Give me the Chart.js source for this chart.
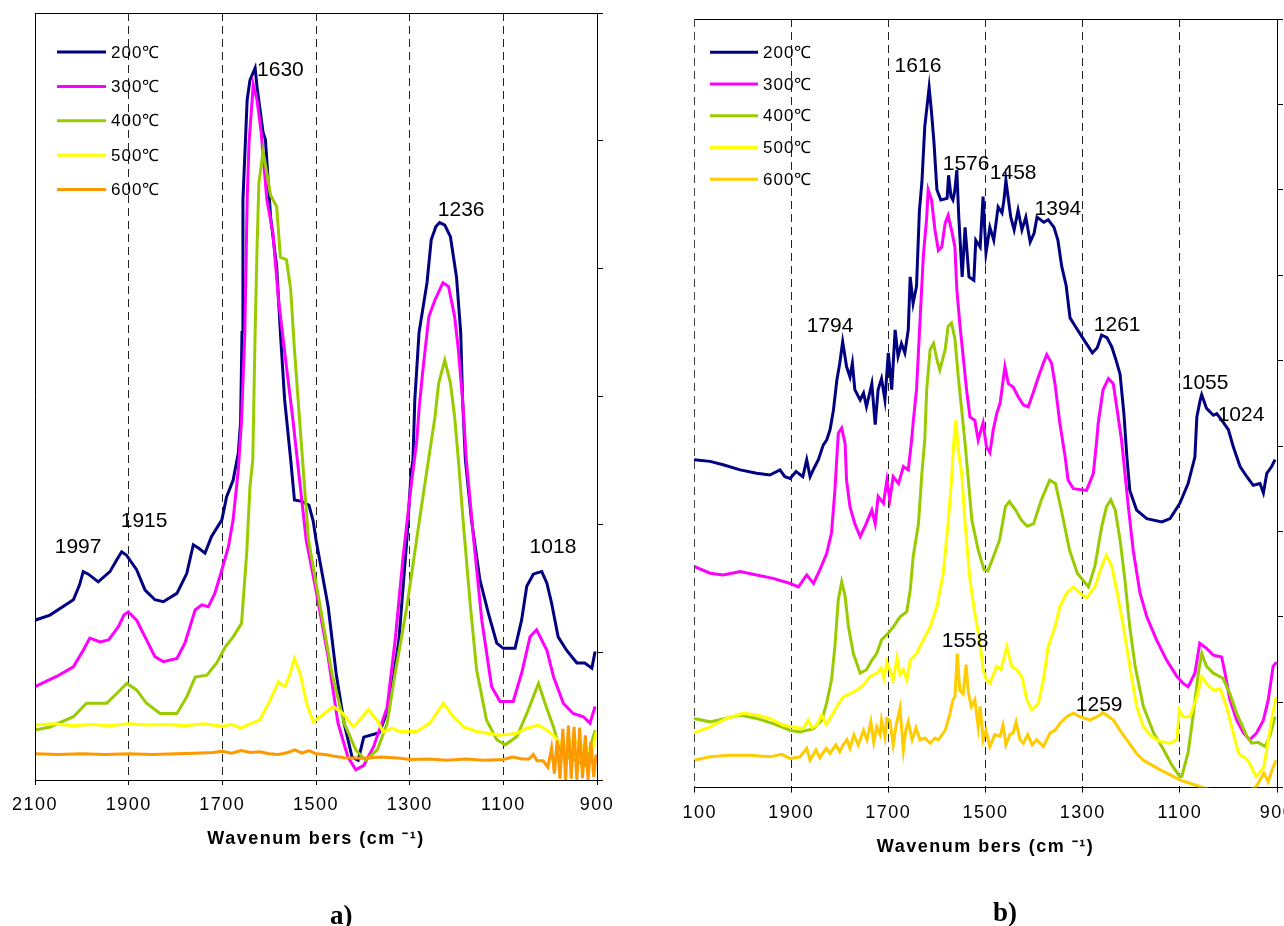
<!DOCTYPE html>
<html>
<head>
<meta charset="utf-8">
<script src="https://cdn.jsdelivr.net/npm/chart.js@4.4.0/dist/chart.umd.min.js"></script>
<style>
  html, body { margin: 0; padding: 0; background: #fff; }
  body { width: 1284px; height: 926px; overflow: hidden; position: relative; }
  .panel { position: absolute; top: 0; overflow: hidden; }
  .panel canvas { position: absolute; top: 0; }
  #wrapA { left: 0; width: 640px; height: 926px; }
  #wrapA canvas { left: 0; }
  #wrapB { left: 683px; width: 601px; height: 926px; }
  #wrapB canvas { left: -19px; }
  .tag { position: absolute; font: bold 27px "Liberation Serif", "Times New Roman", serif; color: #000; }
</style>
</head>
<body>
<div class="panel" id="wrapA"><canvas id="chartA" width="640" height="926"></canvas></div>
<div class="panel" id="wrapB"><canvas id="chartB" width="676" height="926"></canvas></div>
<div class="tag" style="left:330px; top:900px">a)</div>
<div class="tag" style="left:993px; top:897px">b)</div>
<script>
const temps = ['200℃', '300℃', '400℃', '500℃', '600℃'];

// panel a
const waveA200 = [2100,2068,2018,2005,1997,1986,1965,1940,1925,1915,1905,1883,1865,1844,1826,1797,1776,1762,1751,1737,1723,1701,1691,1677,1666,1661,1658,1656,1647,1641,1630,1626,1613,1608,1597,1584,1576,1567,1554,1546,1530,1515,1506,1500,1474,1457,1440,1423,1410,1398,1365,1344,1323,1306,1297,1293,1289,1280,1263,1254,1244,1236,1225,1213,1200,1191,1187,1181,1168,1150,1132,1114,1100,1075,1061,1050,1036,1028,1018,1007,997,983,965,943,926,911,904];
const absA200 = [0.250,0.258,0.282,0.305,0.326,0.322,0.310,0.326,0.345,0.357,0.352,0.329,0.297,0.282,0.279,0.292,0.323,0.368,0.363,0.355,0.381,0.407,0.443,0.469,0.511,0.560,0.700,0.908,1.064,1.095,1.114,1.085,1.013,1.002,0.881,0.803,0.700,0.595,0.501,0.438,0.436,0.430,0.405,0.376,0.271,0.167,0.089,0.036,0.031,0.067,0.074,0.114,0.219,0.376,0.480,0.501,0.595,0.700,0.778,0.845,0.866,0.872,0.868,0.850,0.787,0.700,0.595,0.501,0.407,0.313,0.261,0.214,0.206,0.206,0.250,0.303,0.322,0.324,0.326,0.308,0.277,0.224,0.203,0.183,0.183,0.175,0.201];

const waveA300 = [2100,2054,2018,1997,1983,1961,1943,1922,1910,1901,1883,1865,1844,1826,1797,1780,1758,1744,1730,1716,1701,1687,1677,1666,1659,1652,1647,1643,1634,1626,1617,1605,1592,1580,1563,1550,1521,1500,1474,1453,1432,1415,1398,1377,1348,1331,1314,1297,1285,1280,1272,1259,1246,1229,1217,1204,1196,1187,1179,1164,1146,1125,1107,1079,1061,1043,1029,1007,993,972,951,929,915,904];
const absA300 = [0.146,0.162,0.177,0.203,0.222,0.216,0.219,0.240,0.258,0.263,0.250,0.224,0.193,0.185,0.190,0.214,0.266,0.274,0.271,0.292,0.329,0.365,0.407,0.485,0.563,0.700,0.908,0.997,1.088,1.064,1.013,0.908,0.856,0.751,0.646,0.568,0.376,0.297,0.192,0.089,0.036,0.016,0.023,0.052,0.114,0.219,0.349,0.460,0.530,0.580,0.640,0.725,0.751,0.778,0.772,0.725,0.673,0.595,0.501,0.381,0.250,0.146,0.123,0.123,0.167,0.224,0.235,0.203,0.162,0.120,0.104,0.099,0.089,0.115];

const waveA400 = [2100,2068,2018,1990,1947,1926,1904,1883,1862,1833,1797,1776,1758,1733,1712,1694,1677,1659,1648,1641,1635,1630,1626,1622,1613,1605,1597,1584,1576,1563,1554,1546,1533,1516,1491,1466,1440,1415,1394,1369,1348,1331,1306,1280,1259,1246,1238,1225,1213,1204,1196,1186,1171,1157,1136,1114,1096,1071,1050,1036,1025,1011,993,979,965,947,926,904];
const absA400 = [0.078,0.083,0.099,0.120,0.120,0.135,0.151,0.141,0.120,0.104,0.104,0.130,0.161,0.164,0.183,0.208,0.224,0.245,0.355,0.459,0.501,0.700,0.829,0.934,0.983,0.950,0.915,0.897,0.818,0.814,0.767,0.673,0.543,0.376,0.271,0.167,0.089,0.047,0.031,0.047,0.089,0.167,0.271,0.402,0.505,0.568,0.621,0.657,0.621,0.568,0.501,0.407,0.277,0.172,0.094,0.063,0.055,0.068,0.104,0.130,0.151,0.120,0.083,0.047,0.036,0.031,0.023,0.078];

const waveA500 = [2100,2060,2020,1980,1940,1900,1860,1820,1780,1740,1700,1680,1660,1650,1620,1598,1580,1566,1555,1546,1534,1520,1506,1491,1463,1442,1420,1388,1370,1356,1338,1321,1285,1257,1228,1207,1185,1157,1107,1071,1050,1025,1007,993,972,951,929,911,901];
const absA500 = [0.086,0.088,0.085,0.087,0.085,0.088,0.086,0.087,0.085,0.088,0.084,0.087,0.081,0.085,0.094,0.125,0.154,0.146,0.167,0.190,0.167,0.120,0.091,0.099,0.115,0.104,0.083,0.110,0.094,0.075,0.081,0.076,0.076,0.089,0.120,0.099,0.083,0.076,0.070,0.073,0.081,0.086,0.078,0.070,0.052,0.063,0.052,0.042,0.076];

const waveA600 = [2100,2050,2000,1950,1900,1850,1800,1760,1720,1700,1680,1660,1640,1620,1600,1580,1560,1545,1530,1515,1500,1480,1460,1440,1400,1360,1320,1300,1260,1220,1180,1140,1100,1080,1060,1045,1036,1028,1015,1005,997,991,985,979,973,967,961,955,949,943,937,931,925,919,913,907,902];
const absA600 = [0.041,0.040,0.041,0.040,0.041,0.040,0.041,0.042,0.043,0.045,0.042,0.046,0.043,0.044,0.041,0.040,0.043,0.047,0.042,0.046,0.041,0.040,0.037,0.035,0.034,0.036,0.034,0.032,0.033,0.031,0.033,0.031,0.032,0.036,0.033,0.033,0.040,0.030,0.030,0.020,0.050,0.010,0.062,0.002,0.080,0.000,0.085,0.002,0.083,0.000,0.082,0.003,0.070,0.000,0.060,0.005,0.040];

const peaksA = ['1997', '1915', '1630', '1236', '1018'];

// panel b
const waveB200 = [2100,2067,2040,2005,1971,1944,1923,1913,1902,1890,1876,1868,1861,1853,1844,1834,1827,1820,1813,1806,1800,1794,1786,1779,1774,1769,1758,1751,1745,1734,1727,1721,1714,1707,1700,1693,1686,1680,1673,1666,1659,1655,1649,1642,1636,1631,1625,1616,1611,1606,1600,1592,1579,1576,1571,1567,1563,1559,1555,1548,1542,1534,1524,1520,1511,1505,1499,1491,1483,1474,1466,1462,1458,1448,1441,1433,1425,1417,1408,1400,1394,1380,1371,1359,1351,1343,1334,1326,1314,1297,1280,1270,1261,1250,1240,1231,1223,1215,1209,1203,1189,1168,1137,1120,1100,1083,1069,1065,1058,1055,1045,1031,1024,1011,1000,990,976,962,949,935,928,921,911,904];
const absB200 = [0.384,0.382,0.378,0.372,0.368,0.366,0.372,0.364,0.362,0.370,0.364,0.384,0.364,0.374,0.384,0.401,0.407,0.419,0.442,0.477,0.497,0.522,0.493,0.481,0.497,0.466,0.454,0.462,0.446,0.473,0.425,0.466,0.479,0.454,0.509,0.466,0.536,0.505,0.520,0.509,0.536,0.598,0.567,0.587,0.676,0.708,0.774,0.820,0.790,0.755,0.700,0.688,0.690,0.717,0.692,0.688,0.700,0.723,0.668,0.598,0.656,0.598,0.594,0.641,0.633,0.692,0.626,0.656,0.641,0.680,0.673,0.688,0.711,0.668,0.653,0.676,0.653,0.668,0.639,0.649,0.668,0.662,0.665,0.656,0.641,0.610,0.588,0.550,0.539,0.524,0.509,0.515,0.530,0.527,0.516,0.500,0.484,0.437,0.387,0.348,0.325,0.315,0.311,0.315,0.333,0.356,0.387,0.434,0.454,0.460,0.444,0.436,0.438,0.428,0.419,0.399,0.376,0.364,0.354,0.356,0.345,0.368,0.376,0.384];

const waveB300 = [2100,2067,2040,2005,1971,1937,1902,1885,1868,1854,1841,1827,1817,1810,1803,1796,1789,1786,1779,1769,1758,1748,1734,1727,1721,1710,1703,1697,1690,1679,1669,1659,1652,1649,1642,1635,1628,1621,1618,1611,1604,1597,1590,1583,1577,1570,1563,1559,1553,1546,1539,1532,1522,1515,1505,1498,1491,1484,1477,1470,1460,1453,1443,1433,1422,1412,1402,1391,1381,1374,1364,1357,1347,1336,1330,1319,1292,1278,1271,1268,1258,1247,1237,1230,1220,1206,1196,1182,1168,1148,1127,1106,1093,1083,1069,1059,1045,1031,1014,1007,997,983,969,956,942,928,918,908,901];
const absB300 = [0.259,0.251,0.249,0.253,0.249,0.245,0.239,0.235,0.249,0.239,0.255,0.274,0.298,0.348,0.415,0.421,0.403,0.360,0.329,0.309,0.294,0.306,0.325,0.309,0.341,0.333,0.360,0.337,0.364,0.356,0.376,0.372,0.407,0.427,0.466,0.544,0.622,0.668,0.700,0.688,0.653,0.629,0.633,0.661,0.670,0.653,0.633,0.583,0.544,0.505,0.466,0.434,0.430,0.407,0.427,0.399,0.392,0.419,0.438,0.450,0.493,0.473,0.469,0.458,0.448,0.446,0.462,0.481,0.497,0.507,0.497,0.473,0.427,0.387,0.360,0.350,0.348,0.368,0.407,0.427,0.466,0.479,0.473,0.446,0.407,0.329,0.278,0.228,0.200,0.173,0.149,0.130,0.122,0.118,0.134,0.169,0.163,0.155,0.153,0.134,0.103,0.079,0.064,0.056,0.064,0.079,0.103,0.142,0.147];

const waveB400 = [2100,2067,2005,1971,1937,1902,1882,1854,1837,1827,1817,1810,1803,1796,1789,1782,1772,1758,1745,1734,1724,1714,1700,1690,1676,1662,1655,1649,1638,1631,1625,1621,1614,1607,1600,1594,1583,1577,1570,1563,1556,1549,1542,1528,1515,1503,1495,1484,1471,1459,1451,1438,1426,1414,1401,1385,1368,1356,1344,1327,1311,1288,1275,1261,1251,1242,1233,1223,1213,1203,1192,1175,1154,1133,1116,1100,1096,1083,1072,1062,1055,1045,1031,1011,997,983,962,952,939,924,914,904];
const absB400 = [0.081,0.077,0.085,0.081,0.075,0.067,0.065,0.069,0.079,0.099,0.126,0.165,0.220,0.241,0.224,0.188,0.157,0.134,0.138,0.149,0.157,0.173,0.181,0.188,0.200,0.206,0.231,0.270,0.309,0.368,0.407,0.466,0.513,0.520,0.501,0.489,0.513,0.540,0.544,0.526,0.481,0.442,0.403,0.313,0.278,0.255,0.254,0.270,0.290,0.329,0.335,0.325,0.313,0.306,0.309,0.337,0.360,0.356,0.325,0.278,0.251,0.235,0.259,0.305,0.329,0.337,0.325,0.290,0.243,0.188,0.142,0.095,0.064,0.044,0.026,0.013,0.013,0.041,0.087,0.134,0.157,0.142,0.134,0.128,0.110,0.087,0.060,0.052,0.053,0.048,0.062,0.083];

const waveB500 = [2100,2067,2033,1999,1971,1944,1916,1896,1875,1865,1857,1847,1837,1828,1820,1806,1793,1779,1765,1752,1738,1724,1715,1709,1703,1697,1690,1682,1676,1669,1662,1655,1642,1628,1614,1600,1587,1577,1570,1565,1561,1556,1549,1542,1532,1522,1511,1505,1498,1491,1477,1468,1456,1446,1436,1425,1415,1405,1391,1381,1371,1357,1347,1333,1319,1306,1292,1275,1261,1251,1240,1230,1216,1203,1189,1175,1158,1141,1120,1106,1101,1093,1079,1065,1055,1045,1031,1017,1004,990,979,960,943,927,918,910,902];
const absB500 = [0.064,0.071,0.081,0.087,0.085,0.081,0.073,0.071,0.069,0.079,0.070,0.073,0.085,0.074,0.081,0.095,0.106,0.110,0.114,0.120,0.130,0.134,0.140,0.128,0.147,0.138,0.126,0.152,0.132,0.138,0.126,0.149,0.157,0.173,0.188,0.212,0.251,0.309,0.360,0.407,0.430,0.395,0.368,0.309,0.243,0.204,0.169,0.138,0.126,0.122,0.142,0.138,0.165,0.142,0.138,0.130,0.103,0.091,0.099,0.126,0.165,0.188,0.212,0.228,0.235,0.228,0.222,0.235,0.259,0.272,0.259,0.231,0.188,0.142,0.095,0.071,0.060,0.054,0.052,0.056,0.091,0.083,0.083,0.106,0.130,0.122,0.114,0.116,0.095,0.064,0.040,0.032,0.013,0.024,0.056,0.083,0.106];

const waveB600 = [2100,2067,2026,1985,1944,1919,1902,1882,1868,1861,1849,1841,1828,1820,1808,1800,1793,1785,1779,1771,1762,1751,1744,1736,1730,1724,1717,1714,1707,1703,1697,1690,1684,1676,1669,1664,1659,1651,1643,1635,1625,1614,1604,1597,1583,1573,1567,1563,1558,1553,1546,1540,1535,1529,1522,1515,1511,1505,1499,1491,1481,1470,1464,1458,1450,1443,1437,1429,1422,1413,1404,1395,1381,1367,1357,1347,1333,1319,1306,1285,1264,1259,1251,1237,1223,1209,1189,1175,1141,1100,1058,1034,997,956,943,935,927,918,910,902];
const absB600 = [0.032,0.036,0.038,0.038,0.036,0.039,0.034,0.036,0.046,0.032,0.044,0.035,0.046,0.040,0.050,0.042,0.050,0.056,0.046,0.062,0.050,0.067,0.056,0.077,0.053,0.071,0.062,0.079,0.059,0.081,0.079,0.050,0.073,0.093,0.044,0.067,0.077,0.056,0.070,0.056,0.058,0.052,0.058,0.056,0.067,0.087,0.103,0.106,0.157,0.114,0.110,0.144,0.110,0.095,0.103,0.071,0.095,0.056,0.067,0.048,0.062,0.060,0.073,0.050,0.062,0.064,0.077,0.056,0.052,0.062,0.050,0.056,0.048,0.064,0.067,0.075,0.083,0.087,0.083,0.079,0.085,0.088,0.085,0.079,0.067,0.056,0.040,0.032,0.021,0.009,0.001,-0.003,-0.009,-0.003,0.001,0.009,0.017,0.007,0.021,0.032];

const peaksB = ['1616', '1576', '1458', '1394', '1794', '1261', '1055', '1024', '1558', '1259'];

const font = "Arial, 'Liberation Sans', sans-serif";

function series(i, colour, xs, ys) {
    return {
        label: temps[i],
        borderColor: colour,
        backgroundColor: colour,
        borderWidth: 3,
        pointRadius: 0,
        tension: 0,
        order: 5 - i,
        data: xs.map((x, k) => ({x: x, y: ys[k]}))
    };
}

// box edges, in-plot legend and peak labels
const extras = {
    id: 'extras',
    beforeDraw(chart) {
        // axis text is spaced out a little
        chart.ctx.letterSpacing = '1.5px';
    },
    afterDatasetsDraw(chart, args, opts) {
        const {ctx, chartArea: a, scales: {x, y}} = chart;
        ctx.save();
        ctx.lineWidth = 1;
        ctx.strokeStyle = '#000';
        ctx.beginPath();
        ctx.moveTo(a.left, a.top + 0.5);
        ctx.lineTo(a.right, a.top + 0.5);
        ctx.stroke();
        if (opts.leftDashed) {
            ctx.strokeStyle = '#444';
            ctx.setLineDash([8, 5]);
        }
        ctx.beginPath();
        ctx.moveTo(a.left + 0.5, a.top);
        ctx.lineTo(a.left + 0.5, a.bottom);
        ctx.stroke();
        ctx.setLineDash([]);

        ctx.font = '17px ' + font;
        ctx.letterSpacing = '1px';
        ctx.textBaseline = 'middle';
        ctx.textAlign = 'left';
        ctx.fillStyle = '#000';
        chart.data.datasets.forEach((ds, i) => {
            const ly = a.top + opts.legendTop + i * opts.legendStep;
            const lx = a.left + opts.legendLeft;
            ctx.strokeStyle = ds.borderColor;
            ctx.lineWidth = 3;
            ctx.beginPath();
            ctx.moveTo(lx, ly);
            ctx.lineTo(lx + opts.legendLine, ly);
            ctx.stroke();
            ctx.fillText(ds.label, lx + opts.legendLine + 5, ly + 1);
        });

        ctx.font = '21px ' + font;
        ctx.letterSpacing = '0px';
        ctx.textAlign = 'center';
        opts.peaks.forEach(p => {
            ctx.fillText(p.text, x.getPixelForValue(p.x), y.getPixelForValue(p.y));
        });
        ctx.restore();
    }
};

function scales(yMax, yStep, labelPad) {
    return {
        x: {
            type: 'linear',
            reverse: true,
            min: 900,
            max: 2100,
            afterFit: s => { s.height = 70; },
            ticks: {
                stepSize: 200,
                padding: labelPad,
                color: '#000',
                maxRotation: 0,
                autoSkip: false,
                font: {family: font, size: 18},
                callback: v => String(v)
            },
            grid: {
                color: c => (c.tick && (c.tick.value === 900 || c.tick.value === 2100)) ? 'rgba(0,0,0,0)' : '#222',
                lineWidth: 1,
                tickColor: '#000',
                tickLength: 5
            },
            border: {display: true, color: '#000', width: 1, dash: [8, 5]},
            title: {
                display: true,
                text: 'Wavenum bers (cm ⁻¹)',
                color: '#000',
                padding: 0,
                font: {family: font, size: 18, weight: 'bold'}
            }
        },
        y: {
            type: 'linear',
            position: 'right',
            min: 0,
            max: yMax,
            afterFit: s => { s.width = 8; },
            ticks: {display: false, stepSize: yStep},
            grid: {drawOnChartArea: false, tickLength: 6, tickColor: '#000'},
            border: {display: true, color: '#000', width: 1}
        }
    };
}

new Chart('chartA', {
    type: 'line',
    data: {
        datasets: [
            series(0, '#000080', waveA200, absA200),
            series(1, '#ff00ff', waveA300, absA300),
            series(2, '#99cc00', waveA400, absA400),
            series(3, '#ffff00', waveA500, absA500),
            series(4, '#ff9900', waveA600, absA600)
        ]
    },
    options: {
        responsive: false,
        animation: false,
        layout: {padding: {left: 35, top: 13, right: 35, bottom: 76}, autoPadding: false},
        scales: scales(1.2, 0.2, 9),
        plugins: {
            legend: {display: false},
            tooltip: {enabled: false},
            extras: {
                leftDashed: false,
                legendLeft: 22, legendTop: 39, legendStep: 34.4, legendLine: 49,
                peaks: [
                    {text: peaksA[0], x: 2008, y: 0.365},
                    {text: peaksA[1], x: 1867, y: 0.405},
                    {text: peaksA[2], x: 1576, y: 1.111},
                    {text: peaksA[3], x: 1190, y: 0.892},
                    {text: peaksA[4], x: 994, y: 0.365}
                ]
            }
        }
    },
    plugins: [extras]
});

new Chart('chartB', {
    type: 'line',
    data: {
        datasets: [
            series(0, '#000080', waveB200, absB200),
            series(1, '#ff00ff', waveB300, absB300),
            series(2, '#99cc00', waveB400, absB400),
            series(3, '#ffff00', waveB500, absB500),
            series(4, '#ffcc00', waveB600, absB600)
        ]
    },
    options: {
        responsive: false,
        animation: false,
        layout: {padding: {left: 30, top: 19, right: 55, bottom: 68.4}, autoPadding: false},
        scales: scales(0.9, 0.1, 9.5),
        plugins: {
            legend: {display: false},
            tooltip: {enabled: false},
            extras: {
                leftDashed: true,
                legendLeft: 16, legendTop: 33.3, legendStep: 31.75, legendLine: 48,
                peaks: [
                    {text: peaksB[0], x: 1639, y: 0.845},
                    {text: peaksB[1], x: 1540, y: 0.730},
                    {text: peaksB[2], x: 1443, y: 0.720},
                    {text: peaksB[3], x: 1351, y: 0.677},
                    {text: peaksB[4], x: 1820, y: 0.540},
                    {text: peaksB[5], x: 1229, y: 0.541},
                    {text: peaksB[6], x: 1048, y: 0.473},
                    {text: peaksB[7], x: 974, y: 0.436},
                    {text: peaksB[8], x: 1542, y: 0.172},
                    {text: peaksB[9], x: 1266, y: 0.096}
                ]
            }
        }
    },
    plugins: [extras]
});
</script>
</body>
</html>
